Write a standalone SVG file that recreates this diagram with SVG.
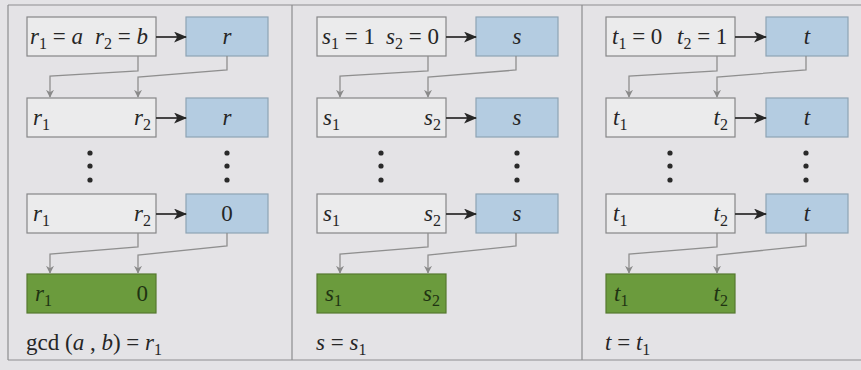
<svg xmlns="http://www.w3.org/2000/svg" width="861" height="370" viewBox="0 0 861 370" font-family="'Liberation Serif', 'DejaVu Serif', serif">
<style>
.bg{fill:#e4e3e6}
.frame{stroke:#8d8d8f;stroke-width:1.2;fill:none}
.box{fill:#ebebec;stroke:#868688;stroke-width:1.2}
.blue{fill:#b4cce1;stroke:#8ea3b4;stroke-width:1.2}
.green{fill:#6b9b3d;stroke:#55792f;stroke-width:1.2}
.tx{font-family:'Liberation Serif','DejaVu Serif',serif;font-size:23px;fill:#262626}
.i{font-style:italic}
.sub{font-size:16px}
.gt{fill:#1f3312}
.conn{stroke:#8f8f8f;stroke-width:1.3;fill:none;marker-end:url(#ga)}
.blk{stroke:#333;stroke-width:1.8;fill:none;marker-end:url(#ba)}
.dot{fill:#2a2a2a}
</style>
<defs>
<marker id="ga" viewBox="0 0 10 10" refX="9" refY="5" markerWidth="8" markerHeight="8" orient="auto" markerUnits="userSpaceOnUse">
<path d="M0,0 L10,5 L0,10 L3,5 Z" fill="#8a8a8a"/>
</marker>
<marker id="ba" viewBox="0 0 12 10" refX="11" refY="5" markerWidth="13" markerHeight="11" orient="auto" markerUnits="userSpaceOnUse">
<path d="M0,0 L12,5 L0,10 L3,5 Z" fill="#262626"/>
</marker>
</defs>
<rect class="bg" x="0" y="0" width="861" height="370"/>
<g id="frame">
<path class="frame" d="M8,5 H861 M8,360 H861 M8,5 V360 M292,5 V360 M582,5 V360"/>
</g>

<!-- Panel 1 -->
<g id="r-init"><rect class="box" x="27" y="17" width="129" height="39"/>
<text class="tx" x="30" y="44"><tspan class="i">r</tspan><tspan class="sub" dy="5">1</tspan><tspan dy="-5"> = </tspan><tspan class="i">a</tspan></text>
<text class="tx" x="95" y="44"><tspan class="i">r</tspan><tspan class="sub" dy="5">2</tspan><tspan dy="-5"> = </tspan><tspan class="i">b</tspan></text></g>
<g id="r-q1"><rect class="blue" x="186" y="17" width="82" height="39"/><text class="tx i" x="227" y="44" text-anchor="middle">r</text></g>
<g id="r-row2"><rect class="box" x="27" y="98" width="129" height="39"/>
<text class="tx" x="33" y="125"><tspan class="i">r</tspan><tspan class="sub" dy="5">1</tspan></text>
<text class="tx" x="151" y="125" text-anchor="end"><tspan class="i">r</tspan><tspan class="sub" dy="5">2</tspan></text></g>
<g id="r-q2"><rect class="blue" x="186" y="98" width="82" height="39"/><text class="tx i" x="227" y="125" text-anchor="middle">r</text></g>
<g id="r-dots"><circle class="dot" cx="90" cy="153" r="2.6"/><circle class="dot" cx="90" cy="166" r="2.6"/><circle class="dot" cx="90" cy="180" r="2.6"/>
<circle class="dot" cx="227" cy="153" r="2.6"/><circle class="dot" cx="227" cy="166" r="2.6"/><circle class="dot" cx="227" cy="180" r="2.6"/></g>
<g id="r-row3"><rect class="box" x="27" y="194" width="129" height="39"/>
<text class="tx" x="33" y="221"><tspan class="i">r</tspan><tspan class="sub" dy="5">1</tspan></text>
<text class="tx" x="151" y="221" text-anchor="end"><tspan class="i">r</tspan><tspan class="sub" dy="5">2</tspan></text></g>
<g id="r-q3"><rect class="blue" x="186" y="194" width="82" height="39"/><text class="tx" x="227" y="221" text-anchor="middle">0</text></g>
<g id="r-result"><rect class="green" x="27" y="274" width="129" height="39"/>
<text class="tx gt" x="35" y="301"><tspan class="i">r</tspan><tspan class="sub" dy="5">1</tspan></text>
<text class="tx gt" x="148" y="301" text-anchor="end">0</text></g>
<g id="r-caption"><text class="tx" x="26" y="350">gcd (<tspan class="i">a</tspan> , <tspan class="i">b</tspan>) = <tspan class="i">r</tspan><tspan class="sub" dy="5">1</tspan></text></g>

<!-- Panel 2 -->
<g id="s-init"><rect class="box" x="317" y="17" width="129" height="39"/>
<text class="tx" x="322" y="44"><tspan class="i">s</tspan><tspan class="sub" dy="5">1</tspan><tspan dy="-5"> = 1</tspan></text>
<text class="tx" x="386" y="44"><tspan class="i">s</tspan><tspan class="sub" dy="5">2</tspan><tspan dy="-5"> = 0</tspan></text></g>
<g id="s-q1"><rect class="blue" x="476" y="17" width="82" height="39"/><text class="tx i" x="517" y="44" text-anchor="middle">s</text></g>
<g id="s-row2"><rect class="box" x="317" y="98" width="129" height="39"/>
<text class="tx" x="323" y="125"><tspan class="i">s</tspan><tspan class="sub" dy="5">1</tspan></text>
<text class="tx" x="441" y="125" text-anchor="end"><tspan class="i">s</tspan><tspan class="sub" dy="5">2</tspan></text></g>
<g id="s-q2"><rect class="blue" x="476" y="98" width="82" height="39"/><text class="tx i" x="517" y="125" text-anchor="middle">s</text></g>
<g id="s-dots"><circle class="dot" cx="381" cy="153" r="2.6"/><circle class="dot" cx="381" cy="166" r="2.6"/><circle class="dot" cx="381" cy="180" r="2.6"/>
<circle class="dot" cx="517" cy="153" r="2.6"/><circle class="dot" cx="517" cy="166" r="2.6"/><circle class="dot" cx="517" cy="180" r="2.6"/></g>
<g id="s-row3"><rect class="box" x="317" y="194" width="129" height="39"/>
<text class="tx" x="323" y="221"><tspan class="i">s</tspan><tspan class="sub" dy="5">1</tspan></text>
<text class="tx" x="441" y="221" text-anchor="end"><tspan class="i">s</tspan><tspan class="sub" dy="5">2</tspan></text></g>
<g id="s-q3"><rect class="blue" x="476" y="194" width="82" height="39"/><text class="tx i" x="517" y="221" text-anchor="middle">s</text></g>
<g id="s-result"><rect class="green" x="317" y="274" width="129" height="39"/>
<text class="tx gt" x="325" y="301"><tspan class="i">s</tspan><tspan class="sub" dy="5">1</tspan></text>
<text class="tx gt" x="440" y="301" text-anchor="end"><tspan class="i">s</tspan><tspan class="sub" dy="5">2</tspan></text></g>
<g id="s-caption"><text class="tx" x="316" y="350"><tspan class="i">s</tspan> = <tspan class="i">s</tspan><tspan class="sub" dy="5">1</tspan></text></g>

<!-- Panel 3 -->
<g id="t-init"><rect class="box" x="606" y="17" width="129" height="39"/>
<text class="tx" x="612" y="44"><tspan class="i">t</tspan><tspan class="sub" dy="5">1</tspan><tspan dy="-5"> = 0</tspan></text>
<text class="tx" x="677" y="44"><tspan class="i">t</tspan><tspan class="sub" dy="5">2</tspan><tspan dy="-5"> = 1</tspan></text></g>
<g id="t-q1"><rect class="blue" x="766" y="17" width="82" height="39"/><text class="tx i" x="807" y="44" text-anchor="middle">t</text></g>
<g id="t-row2"><rect class="box" x="606" y="98" width="129" height="39"/>
<text class="tx" x="613" y="125"><tspan class="i">t</tspan><tspan class="sub" dy="5">1</tspan></text>
<text class="tx" x="728" y="125" text-anchor="end"><tspan class="i">t</tspan><tspan class="sub" dy="5">2</tspan></text></g>
<g id="t-q2"><rect class="blue" x="766" y="98" width="82" height="39"/><text class="tx i" x="807" y="125" text-anchor="middle">t</text></g>
<g id="t-dots"><circle class="dot" cx="670" cy="153" r="2.6"/><circle class="dot" cx="670" cy="166" r="2.6"/><circle class="dot" cx="670" cy="180" r="2.6"/>
<circle class="dot" cx="806" cy="153" r="2.6"/><circle class="dot" cx="806" cy="166" r="2.6"/><circle class="dot" cx="806" cy="180" r="2.6"/></g>
<g id="t-row3"><rect class="box" x="606" y="194" width="129" height="39"/>
<text class="tx" x="613" y="221"><tspan class="i">t</tspan><tspan class="sub" dy="5">1</tspan></text>
<text class="tx" x="728" y="221" text-anchor="end"><tspan class="i">t</tspan><tspan class="sub" dy="5">2</tspan></text></g>
<g id="t-q3"><rect class="blue" x="766" y="194" width="82" height="39"/><text class="tx i" x="807" y="221" text-anchor="middle">t</text></g>
<g id="t-result"><rect class="green" x="606" y="274" width="129" height="39"/>
<text class="tx gt" x="614" y="301"><tspan class="i">t</tspan><tspan class="sub" dy="5">1</tspan></text>
<text class="tx gt" x="728" y="301" text-anchor="end"><tspan class="i">t</tspan><tspan class="sub" dy="5">2</tspan></text></g>
<g id="t-caption"><text class="tx" x="605" y="350"><tspan class="i">t</tspan> = <tspan class="i">t</tspan><tspan class="sub" dy="5">1</tspan></text></g>

<g id="connectors">
<path class="blk" d="M156,37 H186"/><path class="blk" d="M156,118 H186"/><path class="blk" d="M156,214 H186"/>
<path class="blk" d="M446,37 H476"/><path class="blk" d="M446,118 H476"/><path class="blk" d="M446,214 H476"/>
<path class="blk" d="M735,37 H766"/><path class="blk" d="M735,118 H766"/><path class="blk" d="M735,214 H766"/>
<path class="conn" d="M138,56 V71 L50,76 V97"/>
<path class="conn" d="M227,56 V70 L138,77 V97"/>
<path class="conn" d="M138,233 V247 L50,254 V273"/>
<path class="conn" d="M227,233 V246 L138,255 V273"/>
<path class="conn" d="M428,56 V71 L340,76 V97"/>
<path class="conn" d="M516,56 V70 L428,77 V97"/>
<path class="conn" d="M428,233 V247 L340,254 V273"/>
<path class="conn" d="M516,233 V246 L428,255 V273"/>
<path class="conn" d="M717,56 V71 L629,76 V97"/>
<path class="conn" d="M806,56 V70 L717,77 V97"/>
<path class="conn" d="M717,233 V247 L629,254 V273"/>
<path class="conn" d="M806,233 V246 L717,255 V273"/>
</g>
</svg>
